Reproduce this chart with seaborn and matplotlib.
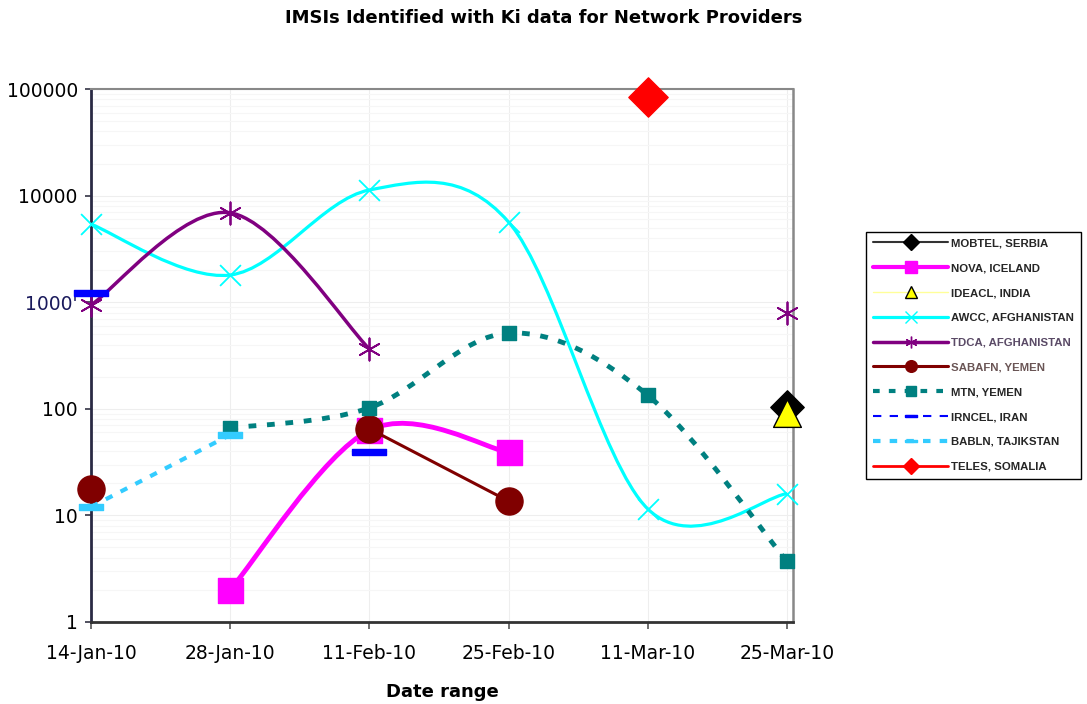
import numpy as np
import matplotlib
matplotlib.use('Agg')
import matplotlib.pyplot as plt
import seaborn as sns
from matplotlib.path import Path
from matplotlib.patches import PathPatch
from matplotlib.lines import Line2D
from matplotlib.ticker import FixedLocator, FixedFormatter, LogLocator, NullFormatter

# ── data (nan = no value that date) ──
dates = ['14-Jan-10', '28-Jan-10', '11-Feb-10', '25-Feb-10', '11-Mar-10', '25-Mar-10']
nan = np.nan
mobtel = [nan, nan, nan, nan, nan, 105]
nova = [nan, 2, 63, 39, nan, nan]
ideacl = [nan, nan, nan, nan, nan, 92]
awcc = [5400, 1800, 11300, 5650, 11.5, 16]
tdca = [940, 6900, 364, nan, nan, 790]
sabafn = [17.5, nan, 65, 13.6, nan, nan]
mtn = [nan, 66, 102, 514, 134, 3.7]
irncel = [1220, nan, 39, nan, nan, nan]
babln = [12, 57, nan, nan, nan, nan]
teles = [nan, nan, nan, nan, 84000, nan]

y_ticks = [1, 10, 100, 1000, 10000, 100000]
y_labels = ['1', '10', '100', "1000'", '10000', '100000']

bar5 = [(-2.5, -0.5), (2.5, -0.5), (2.5, 0.5), (-2.5, 0.5), (-2.5, -0.5)]
bar4 = [(-2, -0.5), (2, -0.5), (2, 0.5), (-2, 0.5), (-2, -0.5)]

# name, values, line color, lw, linestyle, marker, marker size, marker color, edge
series = [
    ('MOBTEL, SERBIA', mobtel, '#333333', 1.5, '-', 'D', 17, '#000000', '#000000'),
    ('NOVA, ICELAND', nova, '#ff00ff', 3.5, '-', 's', 18, '#ff00ff', '#ff00ff'),
    ('IDEACL, INDIA', ideacl, '#ffff99', 1.0, '-', '^', 20, '#ffff00', '#000000'),
    ('AWCC, AFGHANISTAN', awcc, '#00ffff', 2.3, '-', 'x', 15, '#00ffff', '#00ffff'),
    ('TDCA, AFGHANISTAN', tdca, '#800080', 2.5, '-', (6, 2, 0), 16, '#800080', '#800080'),
    ('SABAFN, YEMEN', sabafn, '#800000', 2.2, '-', 'o', 19.5, '#800000', '#800000'),
    ('MTN, YEMEN', mtn, '#008080', 3.5, (0, (1.6, 2.2)), 's', 9.5, '#008080', '#008080'),
    ('IRNCEL, IRAN', irncel, '#0000ff', 1.5, (0, (4, 4)), bar5, 25, '#0000ff', '#0000ff'),
    ('BABLN, TAJIKSTAN', babln, '#33ccff', 3.0, (0, (1.8, 2.2)), bar4, 17, '#33ccff', '#33ccff'),
    ('TELES, SOMALIA', teles, '#ff0000', 2.0, '-', 'D', 20, '#ff0000', '#ff0000'),
]


def smooth_patch(xs, ys, **kw):
    # Excel style smoothed line: cubic bezier through the points, in log space
    ly = np.log10(ys)
    pts = np.column_stack([xs, ly]).astype(float)
    n = len(pts)
    verts = [pts[0]]
    codes = [Path.MOVETO]
    for i in range(n - 1):
        p0 = pts[max(i - 1, 0)]
        p1 = pts[i]
        p2 = pts[i + 1]
        p3 = pts[min(i + 2, n - 1)]
        verts += [p1 + (p2 - p0) / 6, p2 - (p3 - p1) / 6, p2]
        codes += [Path.CURVE4] * 3
    verts = np.array(verts)
    verts[:, 1] = 10 ** verts[:, 1]
    return PathPatch(Path(verts, codes), fill=False, **kw)


sns.set_theme(style='white')
plt.rcParams['font.family'] = ['DejaVu Sans']

fig = plt.figure(figsize=(10.87, 7.04), dpi=100)
ax = fig.add_axes([0.0837, 0.1165, 0.6458, 0.757])
ax.set_yscale('log')
ax.set_ylim(1, 100000)
ax.set_xlim(0, 5.043)

xs_all = np.arange(len(dates))
for z, (name, vals, lc, lw, ls, mk, ms, mc, ec) in enumerate(series):
    vals = np.array(vals, dtype=float)
    ok = ~np.isnan(vals)
    # contiguous runs get a line
    run = []
    for i in range(len(vals) + 1):
        if i < len(vals) and ok[i]:
            run.append(i)
        else:
            if len(run) > 1:
                p = smooth_patch(xs_all[run], vals[run], edgecolor=lc, lw=lw,
                                 linestyle=ls, capstyle='butt', joinstyle='round',
                                 zorder=3 + z, clip_on=False)
                ax.add_patch(p)
            run = []
    lwm = 1.3 if mk in ('x', (6, 2, 0)) else 1.0
    sns.scatterplot(x=xs_all[ok], y=vals[ok], marker=mk, s=ms ** 2, color=mc,
                    edgecolor=ec, linewidth=lwm, ax=ax, zorder=3.5 + z,
                    clip_on=False, legend=False)

# axes styling
ax.set_xticks(xs_all)
ax.set_xticklabels(dates, fontsize=13.5)
ax.yaxis.set_major_locator(FixedLocator(y_ticks))
ax.yaxis.set_major_formatter(FixedFormatter(y_labels))
ax.yaxis.set_minor_locator(LogLocator(base=10, subs=np.arange(2, 10)))
ax.yaxis.set_minor_formatter(NullFormatter())
ax.tick_params(axis='y', which='major', labelsize=13.5, length=4, width=1.2,
               left=True, pad=5.5, colors='#333344', labelcolor='black')
ax.tick_params(axis='y', which='minor', length=0)
ax.tick_params(axis='x', length=5, width=1.2, bottom=True, pad=11,
               colors='#555555', labelcolor='black')
ax.get_yticklabels()[3].set_color('#1a1a5c')
ax.grid(True, which='major', axis='both', color='#eeeeee', lw=0.8)
ax.grid(True, which='minor', axis='y', color='#f6f6f6', lw=0.8)
ax.set_axisbelow(True)
for side, col, w in [('left', '#2a2a44', 2.0), ('bottom', '#333333', 2.0),
                     ('top', '#888888', 1.5), ('right', '#888888', 1.8)]:
    ax.spines[side].set_color(col)
    ax.spines[side].set_linewidth(w)

ax.set_xlabel('Date range', fontsize=13, fontweight='bold', labelpad=14,
              color='black')
fig.suptitle('IMSIs Identified with Ki data for Network Providers',
             fontsize=13, fontweight='bold', x=0.5, y=0.987, color='black')

# legend
handles = []
for name, vals, lc, lw, ls, mk, ms, mc, ec in series:
    handles.append(Line2D([], [], color=lc, lw=min(lw, 3), linestyle=ls,
                          marker=mk, markersize=min(ms, 12) * 0.7,
                          markerfacecolor=mc, markeredgecolor=ec))
leg = fig.legend(handles, [s[0] for s in series], loc='upper left',
                 bbox_to_anchor=(0.797, 0.671), frameon=True, fancybox=False,
                 edgecolor='black', framealpha=1,
                 prop={'family': 'Liberation Sans', 'weight': 'bold', 'size': 8.2},
                 handlelength=6.6, handletextpad=0.25, labelspacing=1.3,
                 borderpad=0.6, borderaxespad=0)
leg.get_frame().set_linewidth(1.0)
leg.get_texts()[4].set_color('#5a4a66')
leg.get_texts()[5].set_color('#6a5555')

fig.savefig('out.png', dpi=100)
